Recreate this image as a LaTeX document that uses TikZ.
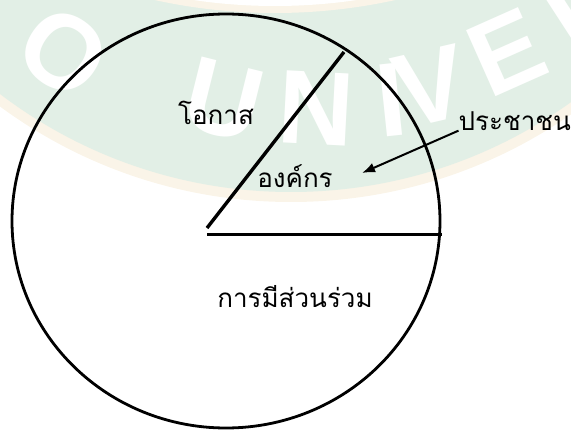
\documentclass[tikz,border=0pt]{standalone}
\usepackage{fontspec}
\newfontfamily\thaifont[Script=Thai]{Loma}
\newfontfamily\markfont{Liberation Sans}
\usetikzlibrary{arrows.meta}
\definecolor{myg}{RGB}{226, 239, 230}
\definecolor{myc}{RGB}{250, 244, 232}

\begin{document}
\begin{tikzpicture}[x=1pt, y=-1pt,
	every node/.style={font=\thaifont\fontsize{26}{30}\selectfont, inner sep=0pt},
	wmletter/.style={font=\markfont\bfseries\fontsize{105}{105}\selectfont, text=white}]
	\useasboundingbox (0,0) rectangle (571,430);
	% watermark band
	\begin{scope}
		\clip (0,0) rectangle (571,430);
		\fill[myc] (291,-289) circle[radius=491];
		\fill[myg] (291,-289) circle[radius=481];
		\fill[myc] (275,-547) circle[radius=560];
		\fill[white] (275,-547) circle[radius=553];
		\node[wmletter, rotate=-35] (wmo) at (64,52) {O};
		\node[wmletter, rotate=-14] (wmu) at (224,100) {U};
		\node[wmletter, rotate=-3] (wmn) at (316,108) {N};
		\node[wmletter, rotate=6] (wmi) at (391,100) {I};
		\node[wmletter, rotate=13] (wmv) at (430,86) {V};
		\node[wmletter, rotate=24] (wme) at (507,52) {E};
		\node[wmletter, rotate=33] (wmr) at (590,10) {R};
	\end{scope}
	% circle and the two radii
	\draw[line width=2.8pt] (226,221) circle[x radius=214, y radius=207];
	\draw[line width=3.4pt] (207,228) -- (344,52);
	\draw[line width=3pt] (207,235) -- (442,235);
	% labels
	\node (chance) at (216,113) {โอกาส};
	\node (org) at (295,176) {องค์กร};
	\node[anchor=east] (people) at (571,121) {ประชาชน};
	\node (part) at (295,297) {การมีส่วนร่วม};
	\coordinate (sector) at (362,173);
	\draw[line width=2pt, -{Latex[length=13pt, width=10pt]}] (people.south west) -- (sector);
\end{tikzpicture}
\end{document}
